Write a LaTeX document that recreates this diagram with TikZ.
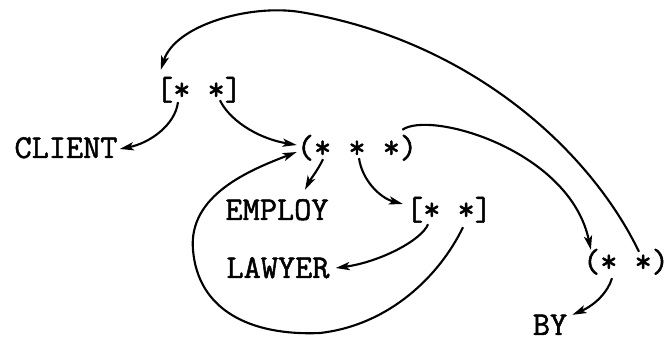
\documentclass[tikz,border=0pt]{standalone}
\usepackage{fontspec}
\newfontfamily\twfont{Latin Modern Mono}[FakeBold=1.5]
\usetikzlibrary{arrows.meta, calc}

\tikzset{
  lbl/.style={inner sep=0pt, text height=17pt, text depth=0pt,
    font=\twfont\fontsize{28.45pt}{34pt}\selectfont},
  link/.style={line width=1.8pt, -{Stealth[length=12pt, width=7pt, inset=3pt]}},
}

\begin{document}
\begin{tikzpicture}[x=0.03cm, y=-0.03cm]
  \useasboundingbox (0,0) rectangle (664,338);

  % list cells
  \node[lbl] (c1) at (199,90) {[* *]};
  \node[lbl] (client) at (66,148) {CLIENT};
  \node[lbl] (c2) at (357,148) {(* * *)};
  \node[lbl] (employ) at (277,210) {EMPLOY};
  \node[lbl] (c3) at (449,210) {[* *]};
  \node[lbl] (lawyer) at (278,268) {LAWYER};
  \node[lbl] (c4) at (626,262) {(* *)};
  \node[lbl] (by) at (550,325) {BY};

  % pointer tails
  \coordinate (c1a) at ($(c1.south)+(-21,2)$);
  \coordinate (c1b) at ($(c1.south)+(21,0)$);
  \coordinate (c2a) at ($(c2.south)+(-34,1)$);
  \coordinate (c2b) at ($(c2.south)+(2,0)$);
  \coordinate (c2c) at ($(c2.north east)+(-15,-8)$);
  \coordinate (c3a) at ($(c3.south)+(-21,4)$);
  \coordinate (c3b) at ($(c3.south)+(14,7)$);
  \coordinate (c4a) at ($(c4.south)+(-14,6)$);
  \coordinate (c4b) at ($(c4.north)+(13,0)$);

  % pointers
  \draw[link] (c1a) .. controls (175,125) and (150,143) .. ($(client.east)+(2,1)$);
  \draw[link] (c1b) .. controls (228,118) and (255,138) .. ($(c2.west)+(0,-3)$);
  \draw[link] (c2a) .. controls (318,170) and (310,180) .. ($(employ.north)+(28,-10)$);
  \draw[link] (c2b) .. controls (362,180) and (380,198) .. ($(c3.west)+(-3,-6)$);
  \draw[link] (c3a) .. controls (422,240) and (380,262) .. ($(lawyer.east)+(6,0)$);
  \draw[link] (c2c) .. controls (430,110) and (570,150) .. ($(c4.north west)+(8,-2)$);
  \draw[link] (c4a) .. controls (608,292) and (595,305) .. ($(by.north east)+(5,0)$);
  \draw[link] (c3b) .. controls (440,275) and (390,325) .. (320,333)
    .. controls (250,336) and (198,310) .. (193,250)
    .. controls (188,195) and (250,170) .. ($(c2.west)+(0,4)$);
  \draw[link] (c4b) .. controls (590,150) and (470,40) .. (300,12)
    .. controls (250,4) and (175,25) .. ($(c1.north west)+(5,-10)$);
\end{tikzpicture}
\end{document}
